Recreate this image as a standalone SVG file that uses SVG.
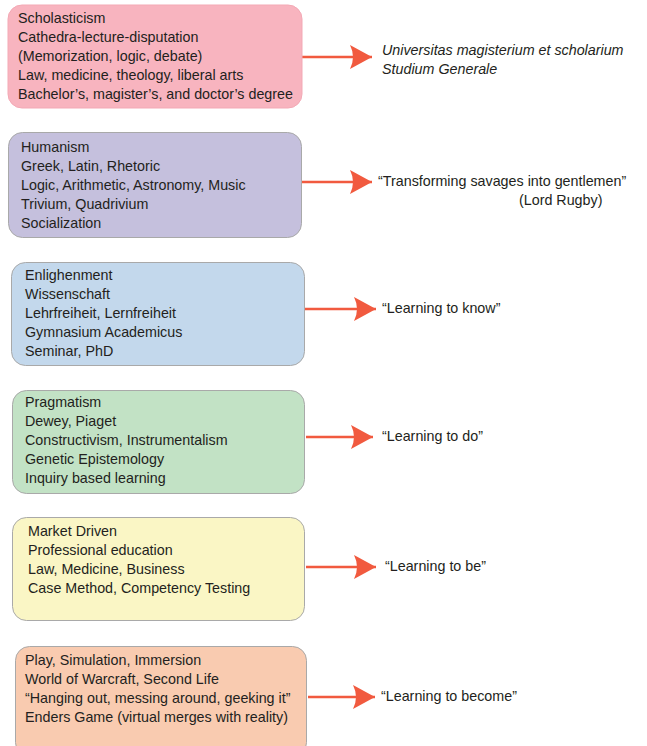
<svg xmlns="http://www.w3.org/2000/svg" width="647" height="746" viewBox="0 0 647 746">
  <style>
    .box { stroke: #a9a9a9; stroke-width: 1; }
    .lbl { font-family: "Liberation Sans", Arial, sans-serif; font-size: 14.3px; fill: #231f20; }
    .it { font-style: italic; }
    .conn { stroke: #f15a3f; stroke-width: 2.5; fill: none; marker-end: url(#head); }
  </style>
  <defs>
    <marker id="head" markerUnits="userSpaceOnUse" markerWidth="24" markerHeight="26" viewBox="-23 -13 24 26" refX="0" refY="0" orient="auto">
      <path d="M0,0 L-22,-12 Q-16,0 -22,12 Z" fill="#f15a3f"/>
    </marker>
  </defs>

  <rect width="647" height="746" fill="#ffffff"/>

  <g id="connectors">
    <line class="conn" x1="302" y1="57" x2="372" y2="57"/>
    <line class="conn" x1="302" y1="182" x2="372" y2="182"/>
    <line class="conn" x1="305" y1="309" x2="376" y2="309"/>
    <line class="conn" x1="306" y1="437" x2="373" y2="437"/>
    <line class="conn" x1="306" y1="567" x2="376" y2="567"/>
    <line class="conn" x1="308" y1="697" x2="375" y2="697"/>
  </g>

  <g id="scholasticism">
    <rect x="8" y="5" width="294" height="103" rx="14" fill="#f8b4bf" stroke="#f3a9b5" stroke-width="1"/>
    <text class="lbl" x="18" y="23">Scholasticism</text>
    <text class="lbl" x="18" y="42">Cathedra-lecture-disputation</text>
    <text class="lbl" x="18" y="61">(Memorization, logic, debate)</text>
    <text class="lbl" x="18" y="80">Law, medicine, theology, liberal arts</text>
    <text class="lbl" x="18" y="99">Bachelor’s, magister’s, and doctor’s degree</text>
  </g>
  <g id="scholasticism-outcome">
    <text class="lbl it" x="382" y="55">Universitas magisterium et scholarium</text>
    <text class="lbl it" x="382" y="74">Studium Generale</text>
  </g>

  <g id="humanism">
    <rect class="box" x="8.5" y="132.5" width="293" height="105" rx="14" fill="#c5c0dd"/>
    <text class="lbl" x="21" y="152">Humanism</text>
    <text class="lbl" x="21" y="171">Greek, Latin, Rhetoric</text>
    <text class="lbl" x="21" y="190">Logic, Arithmetic, Astronomy, Music</text>
    <text class="lbl" x="21" y="209">Trivium, Quadrivium</text>
    <text class="lbl" x="21" y="228">Socialization</text>
  </g>
  <g id="humanism-outcome">
    <text class="lbl" x="378" y="186">“Transforming savages into gentlemen”</text>
    <text class="lbl" x="519" y="205">(Lord Rugby)</text>
  </g>

  <g id="enlightenment">
    <rect class="box" x="11.5" y="262.5" width="293" height="103" rx="14" fill="#c3d8ec"/>
    <text class="lbl" x="25" y="280">Enlighenment</text>
    <text class="lbl" x="25" y="299">Wissenschaft</text>
    <text class="lbl" x="25" y="318">Lehrfreiheit, Lernfreiheit</text>
    <text class="lbl" x="25" y="337">Gymnasium Academicus</text>
    <text class="lbl" x="25" y="356">Seminar, PhD</text>
  </g>
  <g id="enlightenment-outcome">
    <text class="lbl" x="382" y="313">“Learning to know”</text>
  </g>

  <g id="pragmatism">
    <rect class="box" x="12.5" y="390.5" width="292" height="103" rx="14" fill="#c2e2c5"/>
    <text class="lbl" x="25" y="407">Pragmatism</text>
    <text class="lbl" x="25" y="426">Dewey, Piaget</text>
    <text class="lbl" x="25" y="445">Constructivism, Instrumentalism</text>
    <text class="lbl" x="25" y="464">Genetic Epistemology</text>
    <text class="lbl" x="25" y="483">Inquiry based learning</text>
  </g>
  <g id="pragmatism-outcome">
    <text class="lbl" x="382" y="441">“Learning to do”</text>
  </g>

  <g id="market-driven">
    <rect class="box" x="12.5" y="517.5" width="292" height="103" rx="14" fill="#faf6c5"/>
    <text class="lbl" x="28" y="536">Market Driven</text>
    <text class="lbl" x="28" y="555">Professional education</text>
    <text class="lbl" x="28" y="574">Law, Medicine, Business</text>
    <text class="lbl" x="28" y="593">Case Method, Competency Testing</text>
  </g>
  <g id="market-driven-outcome">
    <text class="lbl" x="385" y="571">“Learning to be”</text>
  </g>

  <g id="play">
    <rect class="box" x="15.5" y="646.5" width="291" height="110" rx="14" fill="#f9cbb0"/>
    <text class="lbl" x="25" y="665">Play, Simulation, Immersion</text>
    <text class="lbl" x="25" y="684">World of Warcraft, Second Life</text>
    <text class="lbl" x="25" y="703">“Hanging out, messing around, geeking it”</text>
    <text class="lbl" x="25" y="722">Enders Game (virtual merges with reality)</text>
  </g>
  <g id="play-outcome">
    <text class="lbl" x="381" y="701">“Learning to become”</text>
  </g>
</svg>
